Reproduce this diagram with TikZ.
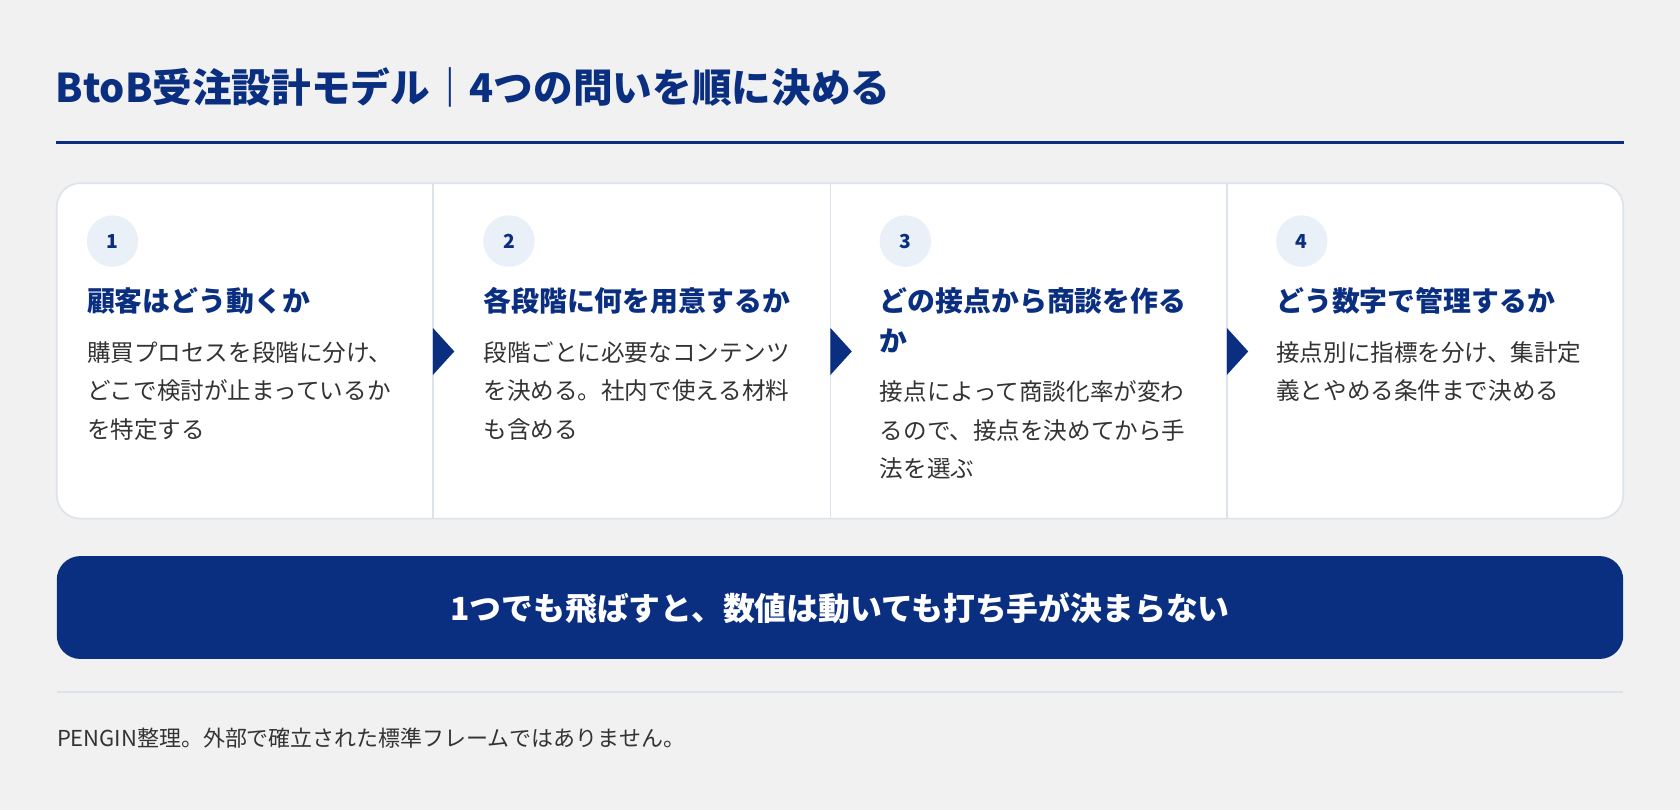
\documentclass[tikz,border=0pt]{standalone}
\usepackage{fontspec}
\setmainfont{Noto Sans CJK JP}
\definecolor{navy}{HTML}{0B2F80}
\definecolor{bgc}{HTML}{F1F1F1}
\definecolor{linec}{HTML}{DDE3EA}
\definecolor{circc}{HTML}{EAF0F8}
\definecolor{bodyc}{HTML}{333333}
\tikzset{
  titletext/.style={anchor=base west, inner sep=0pt, text=navy, font=\fontsize{37}{41}\selectfont\bfseries},
  headtext/.style={anchor=base west, inner sep=0pt, text=navy, font=\fontsize{26}{30}\selectfont\bfseries},
  bodytext/.style={anchor=base west, inner sep=0pt, text=bodyc, font=\fontsize{22}{26}\selectfont},
  numcirc/.style={circle, fill=circc, minimum size=48pt, inner sep=0pt, text=navy, font=\fontsize{18}{21}\selectfont\bfseries},
  divline/.style={draw=linec, line width=1.5pt},
  chev/.style={fill=navy},
}
\begin{document}
\begin{tikzpicture}[x=1pt,y=-1pt]
\fill[bgc] (0,0) rectangle (1568,756);
\useasboundingbox (0,0) rectangle (1568,756);
% title
\node[titletext] (title) at (52,96) {BtoB受注設計モデル｜4つの問いを順に決める};
\coordinate (ruleL) at (52,133);
\coordinate (ruleR) at (1516,133);
\draw[navy, line width=3pt] (ruleL) -- (ruleR);
% card
\draw[linec, line width=1.5pt, fill=white, rounded corners=22pt] (53,171) rectangle (1515,484);
\foreach \x/\n in {404/d1,775/d2,1145/d3}{
  \coordinate (\n t) at (\x,172);
  \coordinate (\n b) at (\x,483);
  \draw[divline] (\n t) -- (\n b);
  \fill[chev] (\x,306) -- (\x+20,328) -- (\x,350) -- cycle;
}
% numbers
\node[numcirc] (n1) at (105,225) {1};
\node[numcirc] (n2) at (475,225) {2};
\node[numcirc] (n3) at (845,225) {3};
\node[numcirc] (n4) at (1215,225) {4};
% panel 1
\node[headtext] (h1) at (81,291) {顧客はどう動くか};
\node[bodytext] (b1a) at (81,337) {購買プロセスを段階に分け、};
\node[bodytext] (b1b) at (81,373) {どこで検討が止まっているか};
\node[bodytext] (b1c) at (81,409) {を特定する};
% panel 2
\node[headtext] (h2) at (451,291) {各段階に何を用意するか};
\node[bodytext] (b2a) at (451,337) {段階ごとに必要なコンテンツ};
\node[bodytext] (b2b) at (451,373) {を決める。社内で使える材料};
\node[bodytext] (b2c) at (451,409) {も含める};
% panel 3
\node[headtext] (h3a) at (821,291) {どの接点から商談を作る};
\node[headtext] (h3b) at (821,328) {か};
\node[bodytext] (b3a) at (821,374) {接点によって商談化率が変わ};
\node[bodytext] (b3b) at (821,410) {るので、接点を決めてから手};
\node[bodytext] (b3c) at (821,446) {法を選ぶ};
% panel 4
\node[headtext] (h4) at (1191,291) {どう数字で管理するか};
\node[bodytext] (b4a) at (1191,337) {接点別に指標を分け、集計定};
\node[bodytext] (b4b) at (1191,373) {義とやめる条件まで決める};
% banner
\fill[navy, rounded corners=22pt] (53,519) rectangle (1515,615);
\node[anchor=base, inner sep=0pt, text=white, font=\fontsize{29.7}{34}\selectfont\bfseries] (banner) at (784,579) {1つでも飛ばすと、数値は動いても打ち手が決まらない};
% separator
\coordinate (sepL) at (53,646);
\coordinate (sepR) at (1515,646);
\draw[linec, line width=2pt] (sepL) -- (sepR);
% footer
\node[anchor=base west, inner sep=0pt, text=bodyc, font=\fontsize{20.5}{24}\selectfont] (foot) at (53,697) {PENGIN整理。外部で確立された標準フレームではありません。};
\end{tikzpicture}
\end{document}
